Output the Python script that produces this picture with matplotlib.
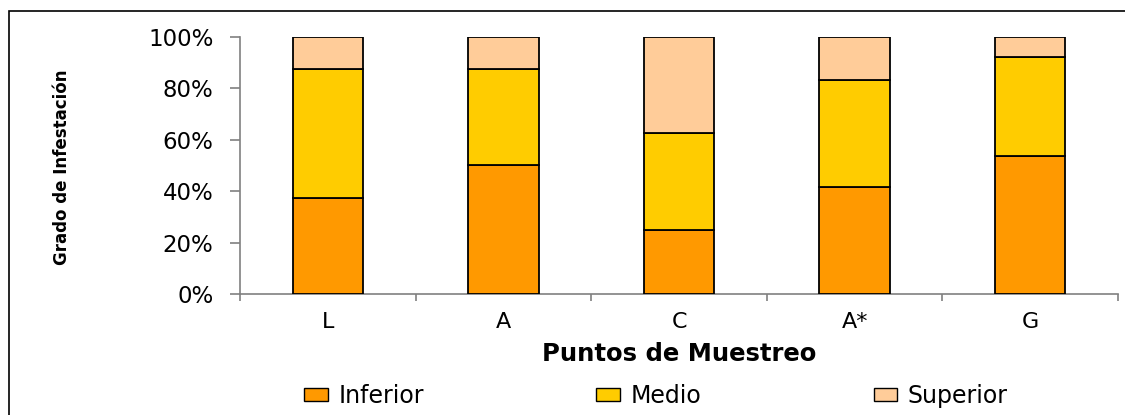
import matplotlib
matplotlib.use("Agg")
import matplotlib.pyplot as plt
from matplotlib.patches import Rectangle, Patch
from matplotlib.ticker import FixedLocator, PercentFormatter
import numpy as np

# Sampling points and share of infestation by plant stratum (%)
puntos = ["L", "A", "C", "A*", "G"]
inferior = [37.5, 50.0, 25.0, 41.7, 53.8]
medio = [50.0, 37.5, 37.5, 41.7, 38.5]
superior = [12.5, 12.5, 37.5, 16.6, 7.7]

series = [("Inferior", inferior, "#FF9900"),
          ("Medio", medio, "#FFCC00"),
          ("Superior", superior, "#FFCC99")]

plt.rcParams["font.family"] = ["DejaVu Sans"]

fig = plt.figure(figsize=(11.25, 4.15), dpi=100)
ax = fig.add_axes([240 / 1125, 1 - 294 / 415, 878 / 1125, 257 / 415])

# Outer chart-area frame
fig.patches.append(Rectangle((9 / 1125, -0.05), 1.2, 1 - 11 / 415 + 0.05,
                             transform=fig.transFigure, fill=False,
                             edgecolor="black", linewidth=1.2, zorder=0))

x = np.arange(len(puntos))
bottom = np.zeros(len(puntos))
for name, vals, color in series:
    vals = np.asarray(vals)
    ax.bar(x, vals, 0.4, bottom=bottom, color=color, edgecolor="black",
           linewidth=1.3, label=name, zorder=3)
    bottom += vals

ax.set_xlim(-0.5, len(puntos) - 0.5)
ax.set_ylim(0, 100)
ax.yaxis.set_major_locator(FixedLocator([0, 20, 40, 60, 80, 100]))
ax.yaxis.set_major_formatter(PercentFormatter(decimals=0))

ax.set_xticks(x)
ax.set_xticklabels(puntos)
ax.set_xticks(np.arange(len(puntos) + 1) - 0.5, minor=True)
ax.tick_params(axis="x", which="major", length=0, pad=13, labelsize=16)
ax.tick_params(axis="x", which="minor", length=5, width=1.2, color="#808080")
ax.tick_params(axis="y", length=7, width=1.2, color="#808080", pad=12,
               labelsize=16.5)

for side in ("top", "right"):
    ax.spines[side].set_visible(False)
for side in ("left", "bottom"):
    ax.spines[side].set_color("#808080")
    ax.spines[side].set_linewidth(1.2)

fig.text(679 / 1125, 1 - 354 / 415, "Puntos de Muestreo", ha="center",
         va="center", fontsize=17.5, fontweight="bold")
fig.text(62 / 1125, 1 - 167 / 415, "Grado de Infestación", rotation=90,
         ha="center", va="center", fontsize=12, fontweight="bold")

handles = [Patch(facecolor=c, edgecolor="black", linewidth=1.0)
           for _, _, c in series]
fig.legend(handles, [n for n, _, _ in series], loc="center",
           bbox_to_anchor=(656 / 1125, 1 - 396 / 415), ncol=3, frameon=False,
           fontsize=17, handlelength=1.0, handleheight=0.45,
           handletextpad=0.45, columnspacing=7.3)

fig.savefig("out.png", dpi=100)
